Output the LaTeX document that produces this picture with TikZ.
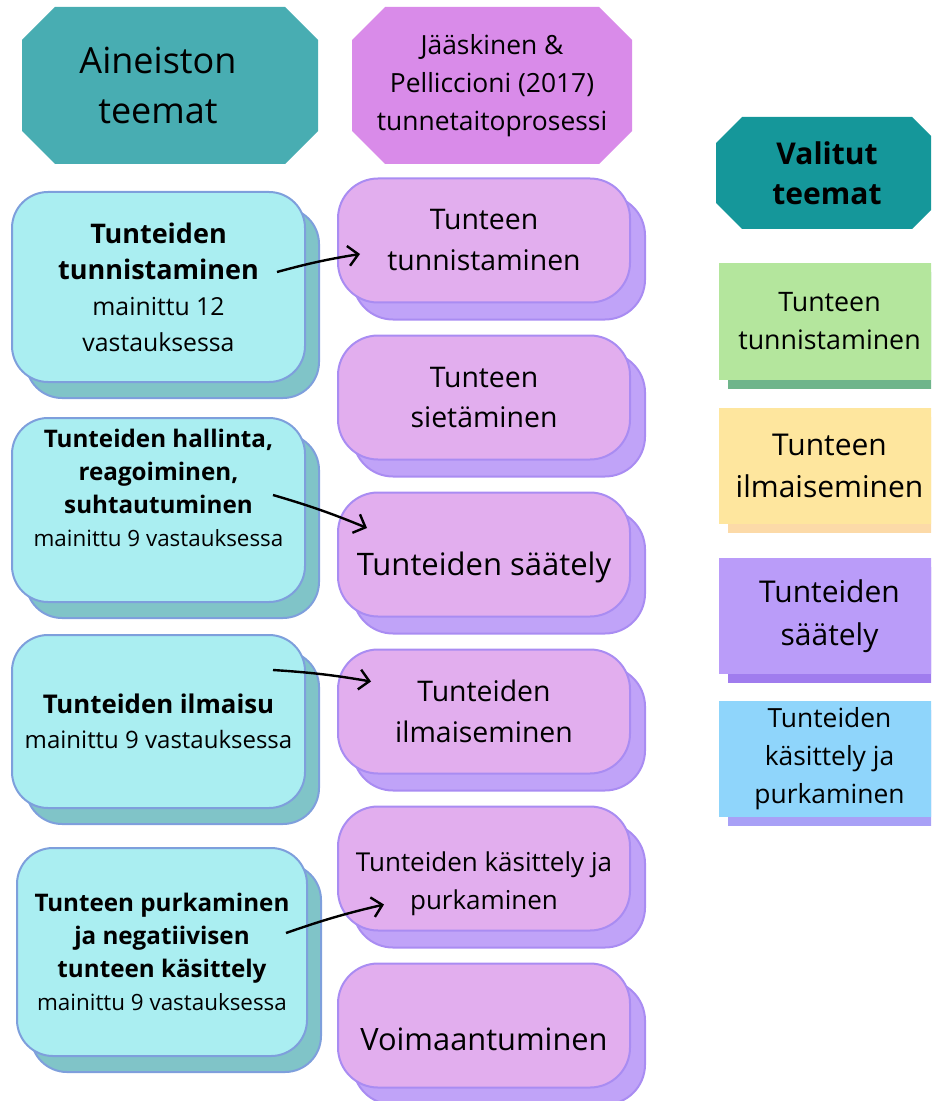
\documentclass[tikz,border=0pt]{standalone}
\usepackage{fontspec}
\setmainfont{Open Sans}
\usetikzlibrary{positioning,shadows,arrows.meta}

\definecolor{headteal}{HTML}{48ADB2}
\definecolor{headorchid}{HTML}{D98BE9}
\definecolor{headdark}{HTML}{15979A}
\definecolor{themefill}{HTML}{AAEEF1}
\definecolor{themeline}{HTML}{7E9FDC}
\definecolor{themeshade}{HTML}{80C4C8}
\definecolor{stagefill}{HTML}{E2AEEE}
\definecolor{stageline}{HTML}{A98CF2}
\definecolor{stageshade}{HTML}{C0A3F8}
\definecolor{pickgreen}{HTML}{B4E69D}
\definecolor{pickgreenshade}{HTML}{6FB58B}
\definecolor{pickyellow}{HTML}{FEE69E}
\definecolor{pickyellowshade}{HTML}{FCDAA8}
\definecolor{pickviolet}{HTML}{BA9CF9}
\definecolor{pickvioletshade}{HTML}{A07CEE}
\definecolor{pickblue}{HTML}{8FD5FB}
\definecolor{pickblueshade}{HTML}{A8A0F6}

\begin{document}
\begin{tikzpicture}[x=0.5pt, y=-0.5pt,
  headbox/.style n args={3}{inner sep=0pt, align=center,
    path picture={\fill[#1] ([xshift=#3+#2]path picture bounding box.north west) -- ([xshift=-#2]path picture bounding box.north east)
      -- ([yshift=-#2]path picture bounding box.north east) -- ([yshift=#2]path picture bounding box.south east)
      -- ([xshift=-#2]path picture bounding box.south east) -- ([xshift=#3+#2]path picture bounding box.south west)
      -- ([xshift=#3, yshift=#2]path picture bounding box.south west) -- ([xshift=#3, yshift=-#2]path picture bounding box.north west) -- cycle;}},
  themebox/.style={draw=themeline, fill=themefill, line width=1pt, rounded corners=18pt, minimum width=146.5pt, inner sep=0pt, align=center,
    copy shadow={shadow xshift=7pt, shadow yshift=-8pt, fill=themeshade, draw=themeline, line width=1pt, opacity=1}},
  stagebox/.style={draw=stageline, fill=stagefill, line width=1pt, rounded corners=20pt, minimum width=146pt, minimum height=62pt, inner sep=0pt, align=center,
    font=\fontsize{14.2}{20.5}\selectfont,
    copy shadow={shadow xshift=7.5pt, shadow yshift=-8.5pt, fill=stageshade, draw=stageline, line width=1pt, opacity=1}},
  pickbox/.style 2 args={fill=#1, minimum width=110.5pt, minimum height=58pt, inner sep=0pt, align=center,
    copy shadow={shadow xshift=4.5pt, shadow yshift=-4.5pt, fill=#2, draw=none, opacity=1}},
  link/.style={-{Straight Barb[length=5pt,width=10pt]}, line width=1.2pt, bend left=3}
]
\clip (0,0) rectangle (931,1101);

% headers
\node[headbox={headteal}{16.5pt}{12pt}, minimum width=160pt, minimum height=78.5pt, font=\fontsize{18}{25}\selectfont] (HA) at (158,85.5) {Aineiston\\teemat};
\node[headbox={headorchid}{16.5pt}{0pt}, minimum width=140pt, minimum height=78.5pt, font=\fontsize{13.2}{19}\selectfont] (HB) at (492,85.5) {Jääskinen \&\\Pelliccioni (2017)\\tunnetaitoprosessi};
\node[headbox={headdark}{13pt}{0pt}, minimum width=111pt, minimum height=56pt, font=\fontsize{15}{20}\selectfont\bfseries] (HC) at (827,173) {Valitut\\teemat};

% themes from the data
\node[themebox, minimum height=95pt, font=\fontsize{12.4}{18}\selectfont] (C1) at (158.5,287) {\textbf{\fontsize{13.5}{18}\selectfont Tunteiden}\\\textbf{\fontsize{13.5}{18}\selectfont tunnistaminen}\\mainittu 12\\vastauksessa};
\node[themebox, minimum height=92pt, below=17pt of C1, text depth=22pt, font=\fontsize{11.2}{16.5}\selectfont] (C2) {\textbf{\fontsize{12.1}{16.5}\selectfont Tunteiden hallinta,}\\\textbf{\fontsize{12.1}{16.5}\selectfont reagoiminen,}\\\textbf{\fontsize{12.1}{16.5}\selectfont suhtautuminen}\\mainittu 9 vastauksessa};
\node[themebox, minimum height=86.5pt, below=15.5pt of C2, font=\fontsize{12}{17.5}\selectfont] (C3) {\textbf{\fontsize{12.9}{17.5}\selectfont Tunteiden ilmaisu}\\mainittu 9 vastauksessa};
\node[themebox, minimum width=145pt, minimum height=104pt, below=19pt of C3, xshift=1.75pt, font=\fontsize{11.2}{16.5}\selectfont] (C4) {\textbf{\fontsize{12.1}{16.5}\selectfont Tunteen purkaminen}\\\textbf{\fontsize{12.1}{16.5}\selectfont ja negatiivisen}\\\textbf{\fontsize{12.1}{16.5}\selectfont tunteen käsittely}\\mainittu 9 vastauksessa};

% process stages
\node[stagebox] (P1) at (484,240.5) {Tunteen\\tunnistaminen};
\node[stagebox, below=15.5pt of P1] (P2) {Tunteen\\sietäminen};
\node[stagebox, below=15.5pt of P2, text height=25pt, font=\fontsize{15.5}{21}\selectfont] (P3) {Tunteiden säätely};
\node[stagebox, below=15.5pt of P3] (P4) {Tunteiden\\ilmaiseminen};
\node[stagebox, below=15.5pt of P4, text height=44pt, font=\fontsize{13}{19}\selectfont] (P5) {Tunteiden käsittely ja\\purkaminen};
\node[stagebox, below=15.5pt of P5, text height=25pt, font=\fontsize{15.4}{21}\selectfont] (P6) {Voimaantuminen};

% chosen themes
\node[pickbox={pickgreen}{pickgreenshade}, font=\fontsize{13.4}{19}\selectfont] (G) at (829.5,321.5) {Tunteen\\tunnistaminen};
\node[pickbox={pickyellow}{pickyellowshade}, below=14pt of G, font=\fontsize{15}{21}\selectfont] (Y) {Tunteen\\ilmaiseminen};
\node[pickbox={pickviolet}{pickvioletshade}, below=16.5pt of Y, font=\fontsize{15}{21.5}\selectfont] (V) {Tunteiden\\säätely};
\node[pickbox={pickblue}{pickblueshade}, below=13pt of V, font=\fontsize{13.2}{19}\selectfont] (B) {Tunteiden\\käsittely ja\\purkaminen};

% links
\draw[link] ([shift={(-29,-15)}]C1.east) to ([shift={(23,13.5)}]P1.west);
\draw[link] ([shift={(-33,-15)}]C2.east) to ([shift={(30,-26.5)}]P3.west);
\draw[link] ([shift={(-33,-51.5)}]C3.east) to ([shift={(34,-30)}]P4.west);
\draw[link] ([shift={(-22,-19)}]C4.east) to ([shift={(47,36)}]P5.west);
\end{tikzpicture}
\end{document}
